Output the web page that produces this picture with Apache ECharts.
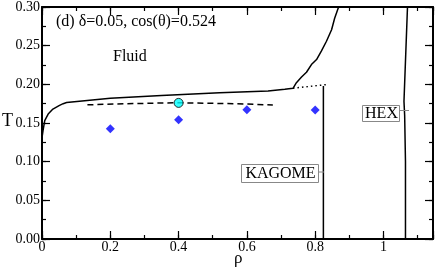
<!DOCTYPE html>
<html>
<head>
<meta charset="utf-8">
<script src="https://cdn.jsdelivr.net/npm/echarts@6/dist/echarts.min.js"></script>
<style>html,body{margin:0;padding:0;background:#fff}#c{width:436px;height:269px}</style>
</head>
<body>
<div id="c"></div>
<script>
// ---- data ----
const xTickLabels = [0, 0.2, 0.4, 0.6, 0.8, 1];
const yTickLabels = ['0.00', '0.05', '0.10', '0.15', '0.20', '0.25', '0.30'];
const fluidBoundary = [
  [0.001, 0.134], [0.003, 0.140], [0.008, 0.153], [0.018, 0.1615], [0.032, 0.168],
  [0.05, 0.1725], [0.062, 0.175], [0.072, 0.1764], [0.2, 0.182], [0.35, 0.1855],
  [0.52, 0.189], [0.662, 0.1914], [0.711, 0.1936], [0.735, 0.1949], [0.745, 0.2021],
  [0.760, 0.2094], [0.7745, 0.2156], [0.789, 0.2256], [0.804, 0.2321], [0.818, 0.2429],
  [0.833, 0.2557], [0.848, 0.2705], [0.857, 0.2854], [0.867, 0.2982], [0.8695, 0.30]
];
const dottedBoundary = [[0.735, 0.1949], [0.839, 0.200]];
const dashedLine = [[0.133, 0.1735], [0.25, 0.175], [0.4, 0.1762], [0.53, 0.1752], [0.6, 0.1745], [0.676, 0.1733]];
const kagomeLine = [[0.824, 0], [0.824, 0.198]];
const hexLine = [[1.0644, 0], [1.0644, 0.10], [1.062, 0.16], [1.060, 0.178], [1.0703, 0.30]];
const diamonds = [[0.2, 0.1427], [0.4, 0.1542], [0.6, 0.167], [0.8, 0.1667]];
const circlePoint = [[0.4, 0.176]];

const XMAX = 1.145, YMAX = 0.30;
const FONT = 'Liberation Serif';

// kind: 'label' (labels only), 'major' (line + long ticks), 'minor' (short ticks)
function makeAxis(dim, pos, kind) {
  const isX = dim === 'x';
  const interval = kind === 'minor' ? (isX ? 0.1 : 0.025) : (isX ? 0.2 : 0.05);
  const ax = {
    type: 'value', position: pos, min: 0, max: isX ? XMAX : YMAX, interval: interval,
    axisLine: { show: kind === 'major', onZero: false, lineStyle: { color: '#000', width: 2 } },
    axisTick: { show: kind !== 'label', inside: true, length: kind === 'minor' ? 4 : 8,
      lineStyle: { color: '#000', width: 1.2 } },
    axisLabel: { show: false },
    splitLine: { show: false }
  };
  if (kind === 'label') {
    ax.axisLabel = {
      show: true, margin: isX ? 1 : 2, color: '#000', fontFamily: FONT, fontSize: 14,
      showMaxLabel: false,
      formatter: function (v) {
        if (isX) {
          for (const t of xTickLabels) if (Math.abs(v - t) < 1e-6) return String(t);
        } else {
          for (const t of yTickLabels) if (Math.abs(v - parseFloat(t)) < 1e-6) return t;
        }
        return '';
      }
    };
    if (!isX) ax.axisLabel.showMaxLabel = true;
  }
  return ax;
}

const chart = echarts.init(document.getElementById('c'), null, { renderer: 'canvas' });
const lineSeries = (data, style) => ({
  type: 'line', data: data, xAxisIndex: 0, yAxisIndex: 0, showSymbol: false, symbol: 'none',
  smooth: false, lineStyle: Object.assign({ color: '#000', width: 1.5 }, style), silent: true, z: 3
});

chart.setOption({
  animation: false,
  backgroundColor: '#fff',
  grid: { left: 42, top: 5, width: 391, height: 234, containLabel: false },
  xAxis: [
    makeAxis('x', 'bottom', 'label'), makeAxis('x', 'bottom', 'major'), makeAxis('x', 'bottom', 'minor'),
    makeAxis('x', 'top', 'major'), makeAxis('x', 'top', 'minor')
  ],
  yAxis: [
    makeAxis('y', 'left', 'label'), makeAxis('y', 'left', 'major'), makeAxis('y', 'left', 'minor'),
    makeAxis('y', 'right', 'major'), makeAxis('y', 'right', 'minor')
  ],
  series: [
    lineSeries(fluidBoundary, {}),
    lineSeries(dottedBoundary, { type: [1.5, 3] }),
    lineSeries(dashedLine, { type: [6, 4] }),
    lineSeries(kagomeLine, {}),
    lineSeries(hexLine, {}),
    {
      type: 'scatter', data: diamonds, symbol: 'diamond', symbolSize: 9,
      itemStyle: { color: '#0000ff' }, z: 4, silent: true
    },
    {
      type: 'scatter', data: circlePoint, symbol: 'circle', symbolSize: 9,
      itemStyle: { color: '#00ffff', borderColor: '#000', borderWidth: 1 }, z: 5, silent: true
    }
  ],
  graphic: [
    { type: 'text', left: 56, top: 14, style: { text: '(d) δ=0.05, cos(θ)=0.524', font: '16px ' + FONT, fill: '#000' } },
    { type: 'text', left: 113, top: 49, style: { text: 'Fluid', font: '16px ' + FONT, fill: '#000' } },
    { type: 'text', left: 2, top: 112, style: { text: 'T', font: '18px ' + FONT, fill: '#000' } },
    { type: 'text', left: 234, top: 250, style: { text: 'ρ', font: '17px ' + FONT, fill: '#000' } },
    { type: 'rect', shape: { x: 241.5, y: 164.5, width: 77, height: 18 }, style: { fill: '#fff', stroke: '#888', lineWidth: 1 }, z: 10 },
    { type: 'text', x: 280.5, y: 174, style: { text: 'KAGOME', font: '16px ' + FONT, fill: '#000', align: 'center', verticalAlign: 'middle' }, z: 11 },
    { type: 'line', shape: { x1: 319, y1: 172, x2: 324, y2: 172 }, style: { stroke: '#888', lineWidth: 1 }, z: 10 },
    { type: 'rect', shape: { x: 362.5, y: 105.5, width: 37, height: 16 }, style: { fill: '#fff', stroke: '#888', lineWidth: 1 }, z: 10 },
    { type: 'text', x: 381.5, y: 114, style: { text: 'HEX', font: '16px ' + FONT, fill: '#000', align: 'center', verticalAlign: 'middle' }, z: 11 },
    { type: 'line', shape: { x1: 400, y1: 110.5, x2: 409, y2: 110.5 }, style: { stroke: '#888', lineWidth: 1 }, z: 10 }
  ]
});
</script>
</body>
</html>
